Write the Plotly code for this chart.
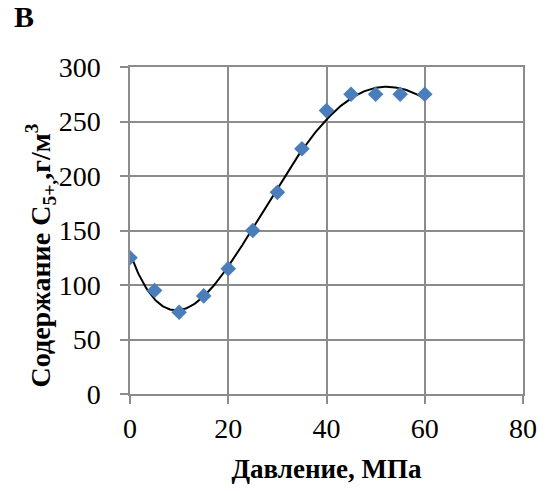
import numpy as np
import plotly.graph_objects as go

pressure = [0, 5, 10, 15, 20, 25, 30, 35, 40, 45, 50, 55, 60]
content = [125, 95, 75, 90, 115, 150, 185, 225, 260, 275, 275, 275, 275]

x_ticks = [0, 20, 40, 60, 80]
y_ticks = [0, 50, 100, 150, 200, 250, 300]

# polynomial trendline, as in the original
coef = np.polyfit(pressure, content, 4)
xt = np.linspace(0, 60, 200)
yt = np.polyval(coef, xt)

font = "Liberation Serif"
grid = "#8c8c8c"
fs = 28

fig = go.Figure()
fig.add_trace(go.Scatter(x=xt, y=yt, mode="lines",
                         line=dict(color="black", width=2), hoverinfo="skip"))
fig.add_trace(go.Scatter(x=pressure, y=content, mode="markers",
                         marker=dict(symbol="diamond", size=12, color="#4a7ebb")))

fig.update_layout(
    width=549, height=491,
    margin=dict(l=130, r=18, t=67, b=94),
    paper_bgcolor="white", plot_bgcolor="white",
    showlegend=False,
    font=dict(family=font, size=fs, color="black"),
    annotations=[
        dict(text="<b>В</b>", x=-0.3, y=1.21, xref="paper", yref="paper",
             xanchor="left", yanchor="top", showarrow=False,
             font=dict(size=30, family=font)),
        dict(text="<b>Содержание C<sub>5+,</sub>,г/м<sup>3</sup></b>",
             x=-0.228, y=0.425, xref="paper", yref="paper", textangle=-90,
             xanchor="center", yanchor="middle", showarrow=False,
             font=dict(size=fs, family=font)),
    ],
)

fig.update_xaxes(range=[0, 80], tickvals=x_ticks, showgrid=True, gridcolor=grid, gridwidth=1.5,
                 showline=True, linecolor=grid, linewidth=1.5, mirror=True,
                 ticks="outside", ticklen=8, tickcolor=grid, tickwidth=1.5, zeroline=False,
                 tickfont=dict(family=font, size=fs), ticklabelstandoff=1,
                 title=dict(text="<b>Давление, МПа</b>", standoff=16, font=dict(family=font, size=27)))
fig.update_yaxes(range=[0, 300], tickvals=y_ticks, showgrid=True, gridcolor=grid, gridwidth=1.5,
                 showline=True, linecolor=grid, linewidth=1.5, mirror=True,
                 ticks="outside", ticklen=8, tickcolor=grid, tickwidth=1.5, zeroline=False,
                 tickfont=dict(family=font, size=fs), ticklabelstandoff=14)

fig.write_html("out.html")
